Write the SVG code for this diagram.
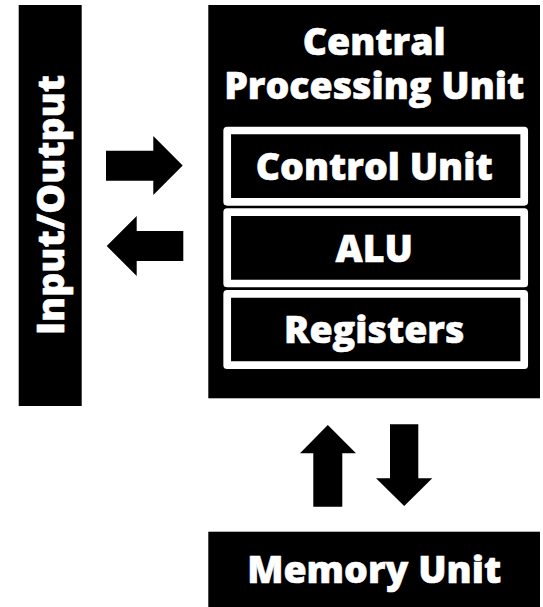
<svg xmlns="http://www.w3.org/2000/svg" width="543" height="607" viewBox="0 0 543 607">
<style>
.blk{fill:#000}
.sub{fill:#000;stroke:#fff;stroke-width:7.7;stroke-linejoin:round}
.lbl{fill:#fff;stroke:#fff;stroke-width:0.6;stroke-linejoin:round;font-family:"Open Sans","Noto Sans","Liberation Sans",sans-serif;font-weight:800;font-size:37.5px;text-anchor:middle}
.arr{fill:#000}
</style>
<rect x="0" y="0" width="543" height="607" fill="#fff"/>
<g id="io">
<rect class="blk" x="18.7" y="5" width="63" height="401"/>
<text class="lbl" transform="translate(64,205) rotate(-90)" x="0" y="0">Input/Output</text>
</g>
<g id="cpu">
<rect class="blk" x="208.3" y="5" width="331.7" height="393.3"/>
<text class="lbl" x="374.2" y="55">Central</text>
<text class="lbl" x="374.2" y="99">Processing Unit</text>
</g>
<g id="control-unit">
<rect class="sub" x="227.2" y="130.5" width="297" height="71.3"/>
<text class="lbl" x="374.2" y="180">Control Unit</text>
</g>
<g id="alu">
<rect class="sub" x="227.2" y="212.2" width="297" height="71.3"/>
<text class="lbl" x="374.2" y="261.7">ALU</text>
</g>
<g id="registers">
<rect class="sub" x="227.2" y="293.9" width="297" height="71.3"/>
<text class="lbl" x="374.2" y="343.3">Registers</text>
</g>
<g id="memory-unit">
<rect class="blk" x="208.3" y="531.7" width="331.7" height="76"/>
<text class="lbl" x="374.2" y="583.3">Memory Unit</text>
</g>
<g id="connectors">
<polygon class="arr" points="106,150.7 153.3,150.7 153.3,136 182.7,165.5 153.3,195 153.3,180.7 106,180.7"/>
<polygon class="arr" points="183.3,231 136.7,231 136.7,216 106.7,246 136.7,276 136.7,261 183.3,261"/>
<polygon class="arr" points="327.8,425 356,453.3 342.3,453.3 342.3,506.7 313.3,506.7 313.3,453.3 300,453.3"/>
<polygon class="arr" points="390,424.3 418.3,424.3 418.3,478.3 432.3,478.3 404.2,506 376,478.3 390,478.3"/>
</g>
</svg>
